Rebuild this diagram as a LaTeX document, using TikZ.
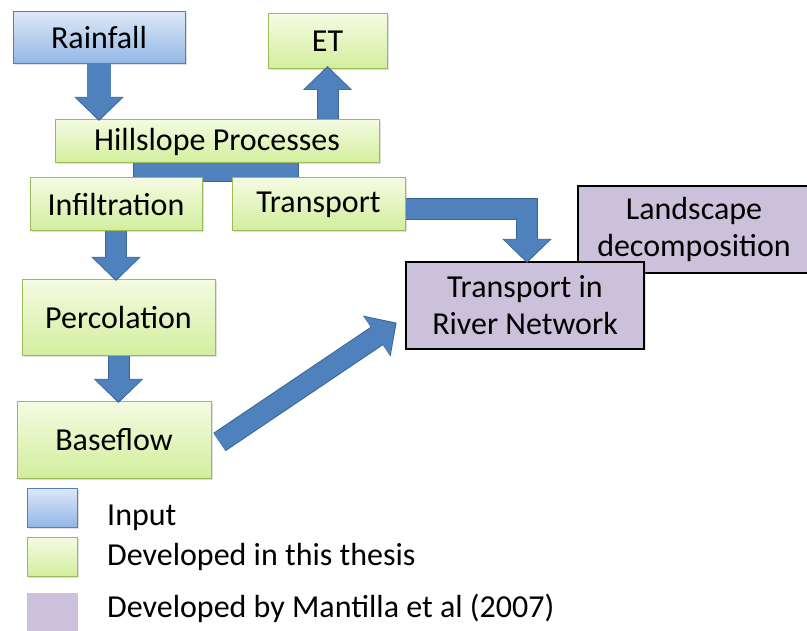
\documentclass[tikz,border=0pt]{standalone}
\usepackage{fontspec}
\setmainfont{Carlito}
\usetikzlibrary{arrows.meta,calc,shadows}
\definecolor{arrowblue}{HTML}{4F81BD}
\definecolor{arrowdark}{HTML}{3A6595}
\definecolor{greentop}{HTML}{F4FBE2}
\definecolor{greenbot}{HTML}{D2EE9C}
\definecolor{greenline}{HTML}{9BBB59}
\definecolor{bluetop}{HTML}{DCE8F8}
\definecolor{bluebot}{HTML}{93B6E4}
\definecolor{blueline}{HTML}{4F81BD}
\definecolor{purplefill}{HTML}{CCC1DA}
\tikzset{
  box/.style={rectangle, inner sep=0pt, align=center, font=\fontsize{32}{37}\selectfont,
    drop shadow={opacity=0.25, shadow xshift=1.5pt, shadow yshift=-1.5pt}},
  greenbox/.style={box, top color=greentop, bottom color=greenbot, draw=greenline, line width=1pt},
  bluebox/.style={box, top color=bluetop, bottom color=bluebot, draw=blueline, line width=1pt},
  purplebox/.style={box, fill=purplefill, draw=black, line width=1.2pt},
  blockarr/.style={draw=arrowblue, line width=20pt, line join=miter,
    -{Triangle[width=45pt,length=22pt]},
    preaction={draw=arrowdark, line width=22pt, line join=miter, shorten >=-1.5pt,
      -{Triangle[width=48pt,length=24pt]}}},
  legtext/.style={anchor=base west, inner sep=0pt, font=\fontsize{32}{37}\selectfont},
}
\begin{document}
\begin{tikzpicture}[x=1pt,y=-1pt]
\useasboundingbox (0,0) rectangle (807,631);

% connector bar under Hillslope Processes
\filldraw[fill=arrowblue, draw=arrowdark, line width=1pt] (133,158) rectangle (298,182);

% nodes
\node[bluebox, minimum width=172pt, minimum height=52pt] (rain) at (99,38) {Rainfall};
\node[greenbox, minimum width=119pt, minimum height=55pt] (et) at (327.5,41.5) {ET};
\node[greenbox, minimum width=324pt, minimum height=43pt] (hills) at (217,141.5) {Hillslope Processes};
\node[greenbox, minimum width=172pt, minimum height=53pt] (infil) at (116,204.5) {Infiltration};
\node[greenbox, minimum width=173pt, minimum height=53pt] (trans) at (318.5,204.5) {Transport};
\node[greenbox, minimum width=193pt, minimum height=76pt] (perc) at (118.5,318) {Percolation};
\node[greenbox, minimum width=194pt, minimum height=76pt] (base) at (114,440) {Baseflow};
\node[purplebox, minimum width=232pt, minimum height=87pt] (land) at (694,229.5) {Landscape\\decomposition};
\node[purplebox, minimum width=238pt, minimum height=87pt] (river) at (525,305.5) {Transport in\\River Network};

% arrows
\draw[blockarr, line width=24pt] (rain.south) -- (rain.south |- hills.north);
\draw[blockarr] (et.south |- hills.north) -- ([yshift=2pt]et.south);
\draw[blockarr] (infil.south) -- (infil.south |- perc.north);
\draw[blockarr] (perc.south) -- (perc.south |- base.north);
\draw[blockarr] ([yshift=-4.5pt]trans.east) -| ([xshift=2pt]river.north);
\draw[blockarr] ($(base.east)+(8,2)$) -- ($(river.west)+(-10,18)$);

% legend
\node[bluebox, drop shadow={opacity=0}, minimum width=50pt, minimum height=39pt] (legin) at (52,507.5) {};
\node[greenbox, drop shadow={opacity=0}, minimum width=50pt, minimum height=39pt] (legdev) at (52,557) {};
\node[rectangle, fill=purplefill, minimum width=51pt, minimum height=40pt, inner sep=0pt] (legman) at (52.5,613) {};
\node[legtext] (tin) at (107,525) {Input};
\node[legtext] (tdev) at (107,565) {Developed in this thesis};
\node[legtext] (tman) at (107,617) {Developed by Mantilla et al (2007)};
\end{tikzpicture}
\end{document}
